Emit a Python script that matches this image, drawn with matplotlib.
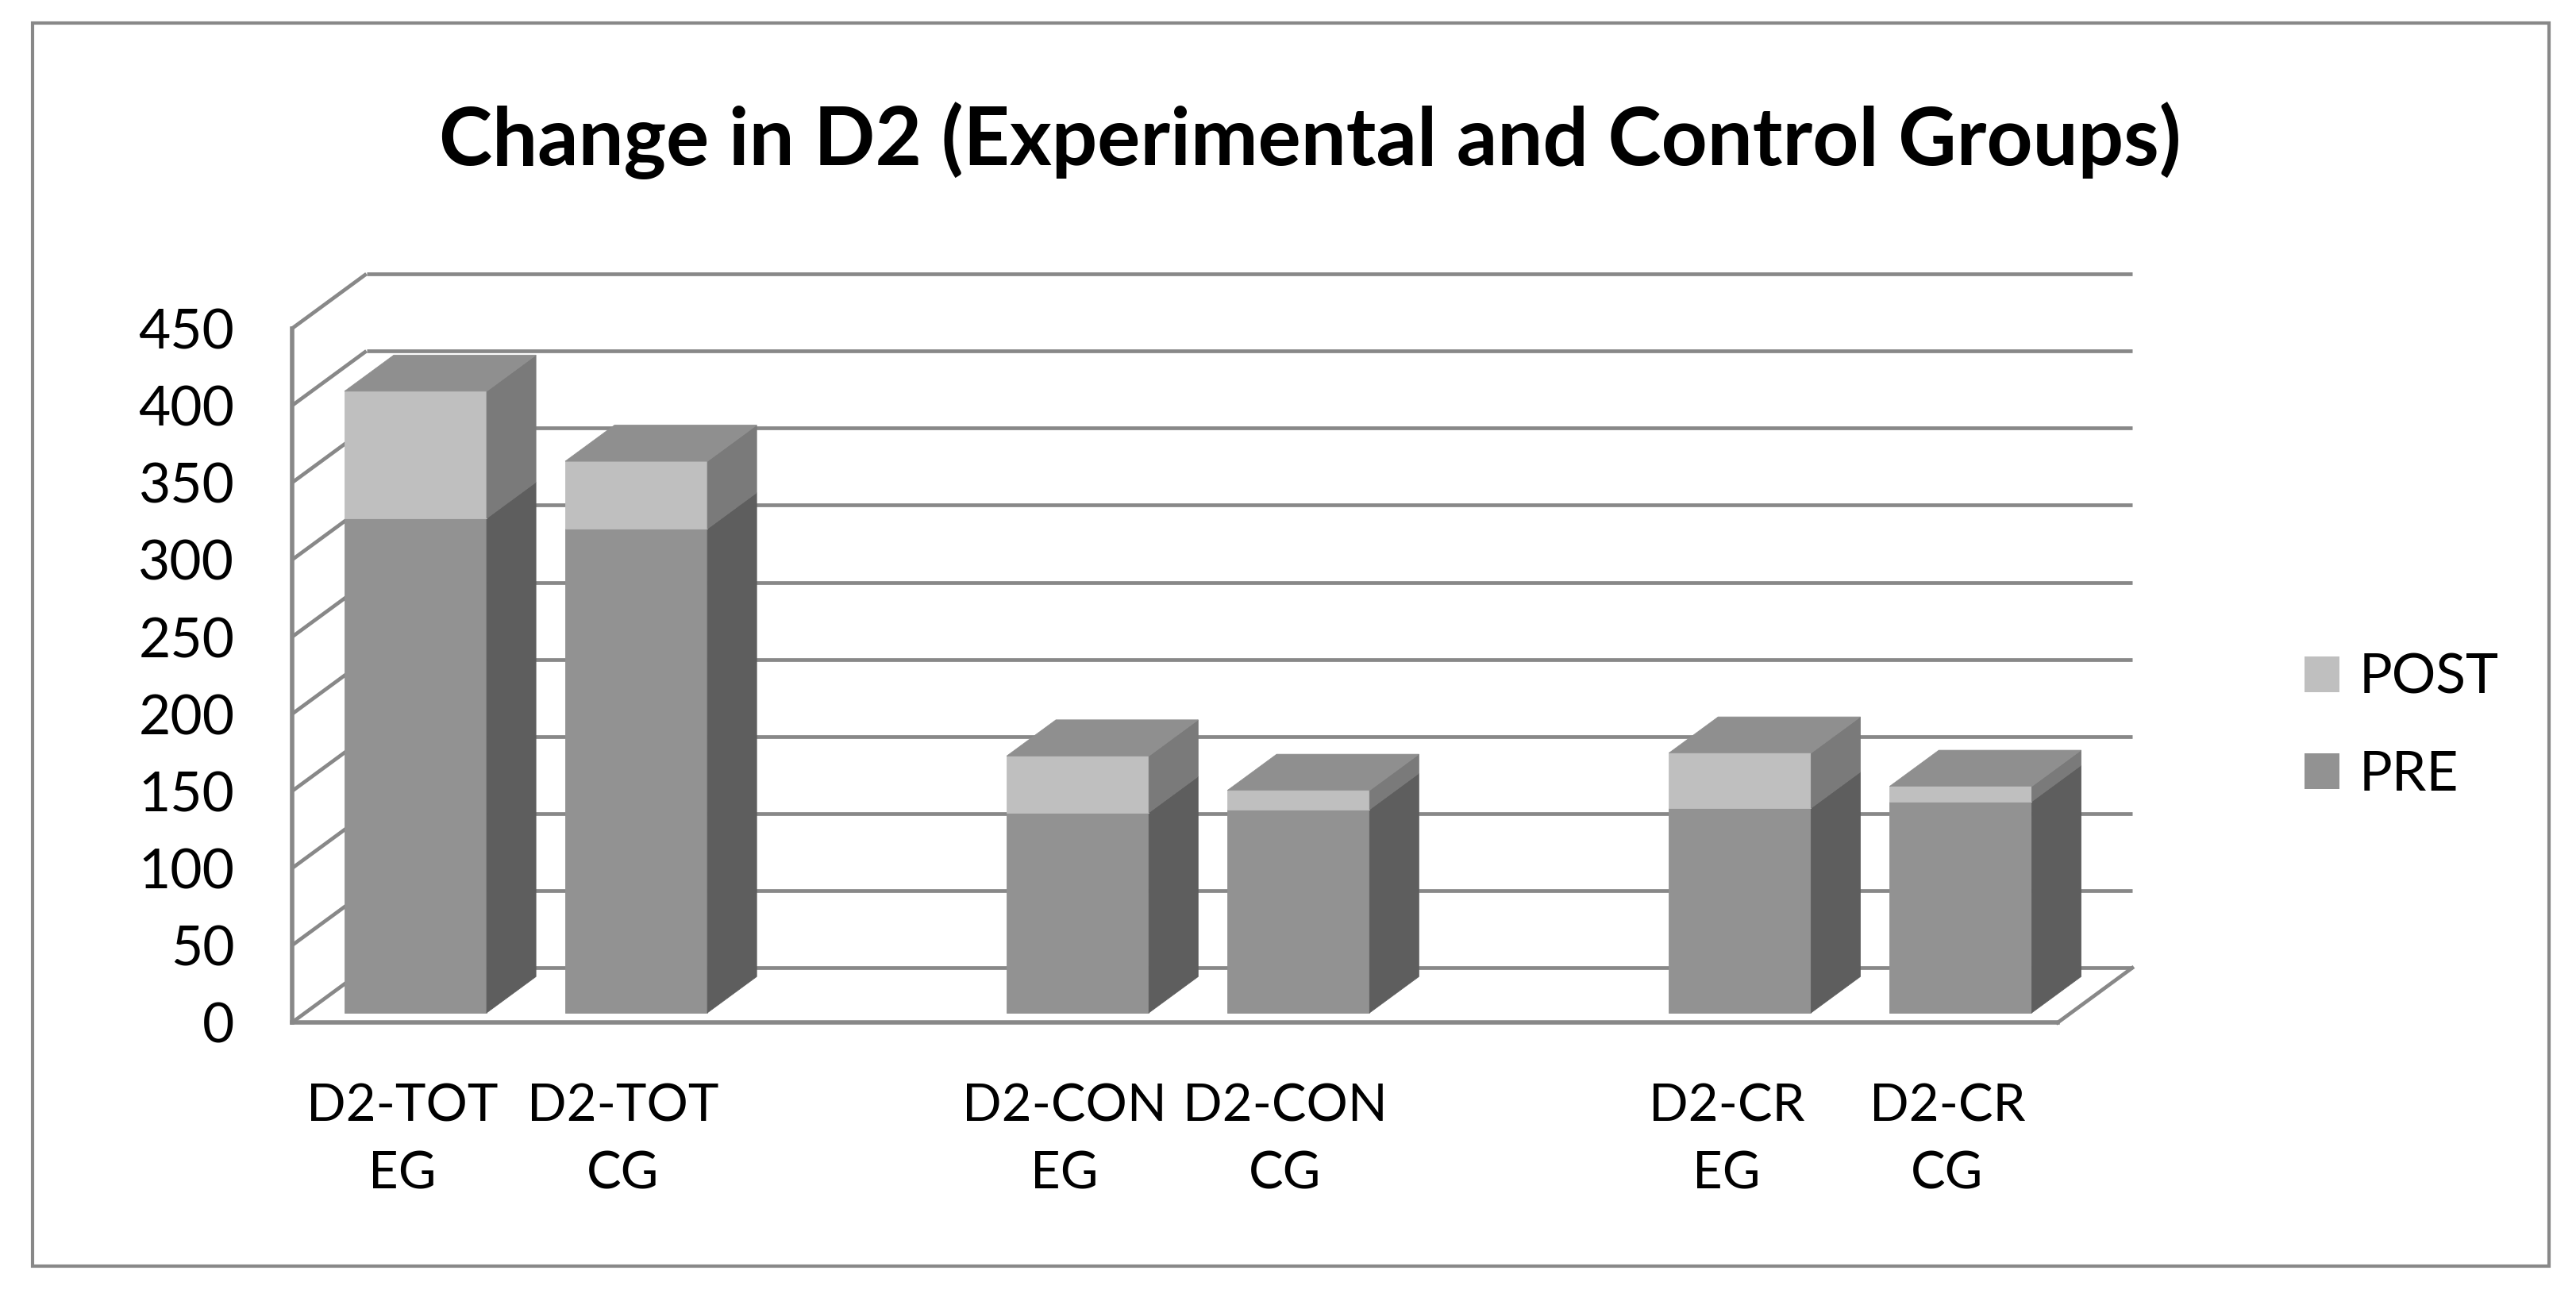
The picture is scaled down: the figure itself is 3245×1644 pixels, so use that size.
import matplotlib
matplotlib.use("Agg")
import matplotlib.pyplot as plt
from matplotlib.patches import Polygon, Rectangle, Patch
from matplotlib.lines import Line2D

# ---------------- data ----------------
measures = ["D2-TOT", "D2-CON", "D2-CR"]
groups = ["EG", "CG"]
pre_values = [320.6, 313.8, 129.8, 131.8, 132.7, 137.0]
post_values = [82.4, 43.8, 36.7, 12.4, 35.7, 9.8]
series_names = ["POST", "PRE"]
y_ticks = [0, 50, 100, 150, 200, 250, 300, 350, 400, 450]
title = "Change in D2 (Experimental and Control Groups)"

# ---------------- style ----------------
plt.rcParams["font.family"] = ["Lato", "DejaVu Sans"]
W, H, DPI = 3245, 1644, 100
GRID = "#888888"
PRE_FRONT, PRE_SIDE = "#929292", "#5e5e5e"
POST_FRONT, POST_SIDE = "#bfbfbf", "#7a7a7a"
TOP = "#8f8f8f"

fig = plt.figure(figsize=(W / DPI, H / DPI), dpi=DPI)
fig.patch.set_facecolor("white")

# front plane of the 3-D box (pixels)
FL, FR, FT, FB = 367.6, 2592.0, 414.0, 1288.3
ax = fig.add_axes([FL / W, 1 - FB / H, (FR - FL) / W, (FB - FT) / H])
n_slots = len(measures) * (len(groups) + 1) - 1
ax.set_xlim(0, n_slots)
ax.set_ylim(y_ticks[0], y_ticks[-1])
ax.set_facecolor("none")

# depth vector (pixels -> data units)
DX_PX, DY_PX = 94.0, 69.0
dx = DX_PX / ((FR - FL) / n_slots)
dy = DY_PX / ((FB - FT) / (y_ticks[-1] - y_ticks[0]))
front_gap, bar_depth, bar_w = 0.18, 0.66, 0.644

lw_grid = 3.4
# walls: left wall diagonals and back wall gridlines
for t in y_ticks:
    ax.add_line(Line2D([0, dx], [t, t + dy], color=GRID, lw=lw_grid,
                       clip_on=False, zorder=1, solid_capstyle="butt"))
    ax.add_line(Line2D([dx, n_slots + dx], [t + dy, t + dy], color=GRID,
                       lw=lw_grid, clip_on=False, zorder=1, solid_capstyle="butt"))
# floor right edge
ax.add_line(Line2D([n_slots, n_slots + dx], [0, dy], color=GRID, lw=lw_grid,
                   clip_on=False, zorder=1))

for s in ["top", "right"]:
    ax.spines[s].set_visible(False)
for s in ["left", "bottom"]:
    ax.spines[s].set_color(GRID)
    ax.spines[s].set_linewidth(lw_grid + 0.6)
    ax.spines[s].set_zorder(1)


def poly(pts, color, z):
    ax.add_patch(Polygon(pts, closed=True, facecolor=color, edgecolor=color,
                         lw=0.6, clip_on=False, zorder=z))


def segment(x_left, y0, y1, front, side, z):
    xl = x_left + front_gap * dx
    xr = xl + bar_w
    b0 = y0 + front_gap * dy
    b1 = y1 + front_gap * dy
    ddx, ddy = bar_depth * dx, bar_depth * dy
    poly([(xl, b0), (xr, b0), (xr, b1), (xl, b1)], front, z)
    poly([(xr, b0), (xr + ddx, b0 + ddy), (xr + ddx, b1 + ddy), (xr, b1)], side, z)


def top(x_left, y1, z):
    xl = x_left + front_gap * dx
    xr = xl + bar_w
    b1 = y1 + front_gap * dy
    ddx, ddy = bar_depth * dx, bar_depth * dy
    poly([(xl, b1), (xr, b1), (xr + ddx, b1 + ddy), (xl + ddx, b1 + ddy)], TOP, z)


positions = []
labels = []
k = 0
for gi, m in enumerate(measures):
    for si, g in enumerate(groups):
        pos = gi * (len(groups) + 1) + si
        positions.append(pos)
        labels.append(f"{m}\n{g}")
        x_left = pos + (1 - bar_w) / 2
        pre, post = pre_values[k], post_values[k]
        z = 3 + k
        segment(x_left, 0, pre, PRE_FRONT, PRE_SIDE, z)
        segment(x_left, pre, pre + post, POST_FRONT, POST_SIDE, z)
        top(x_left, pre + post, z)
        k += 1

# ticks
ax.set_yticks(y_ticks)
ax.set_yticklabels([str(t) for t in y_ticks])
ax.tick_params(axis="y", length=0, pad=52, labelsize=50)
ax.set_xticks([p + 0.5 for p in positions])
ax.set_xticklabels(labels, linespacing=1.53)
ax.tick_params(axis="x", length=0, pad=55, labelsize=47)

# legend
handles = [Patch(facecolor=POST_FRONT, edgecolor="none"),
           Patch(facecolor=PRE_FRONT, edgecolor="none")]
ax.legend(handles, series_names, loc="center left",
          bbox_to_anchor=(2903 / W, 1 - 915 / H), bbox_transform=fig.transFigure,
          frameon=False, fontsize=50, handlelength=0.63, handleheight=0.62,
          handletextpad=0.36, labelspacing=0.85, borderpad=0, borderaxespad=0)

# title
fig.text(1650 / W, 1 - 208 / H, title, ha="center", va="baseline",
         fontsize=73, fontweight="bold")

# outer border
fig.add_artist(Rectangle((41 / W, 1 - 1595 / H), (3211 - 41) / W, (1595 - 29.3) / H,
                         transform=fig.transFigure, fill=False, edgecolor=GRID, lw=3))

fig.savefig("out.png", dpi=DPI, facecolor="white")
